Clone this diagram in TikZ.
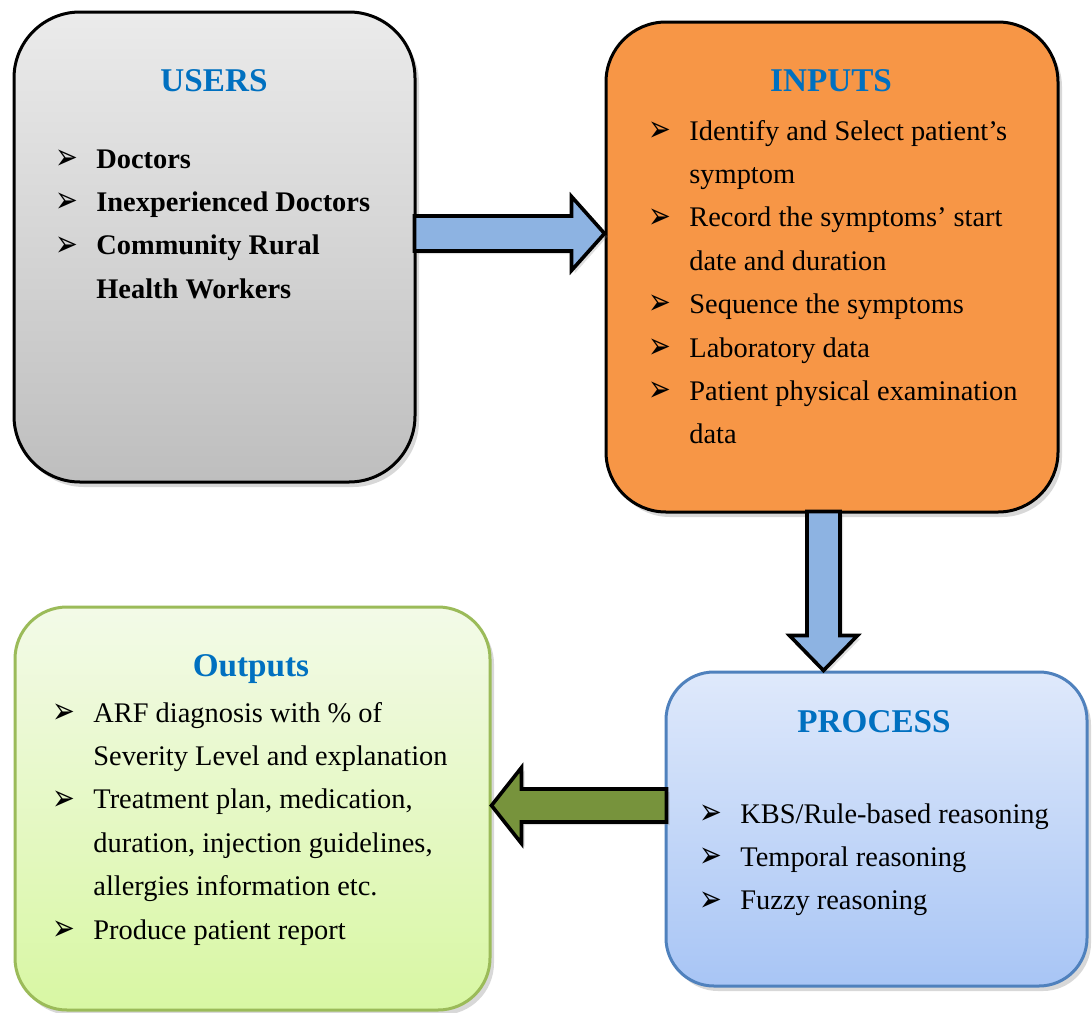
\documentclass[tikz,border=0pt]{standalone}
\usepackage{fontspec}
\setmainfont{Liberation Serif}
\newfontfamily\arrowfont{DejaVu Sans}
\usepackage{tikz}
\usetikzlibrary{calc,fit,shadows}
\definecolor{DxTitle}{HTML}{0070C0}
\definecolor{DxGreyTop}{HTML}{EBEBEB}
\definecolor{DxGreyBot}{HTML}{BEBEBE}
\definecolor{DxOrange}{HTML}{F79646}
\definecolor{DxBlueTop}{HTML}{DFE9FB}
\definecolor{DxBlueBot}{HTML}{A8C5F5}
\definecolor{DxBlueLine}{HTML}{4F81BD}
\definecolor{DxLimeTop}{HTML}{F3FAE8}
\definecolor{DxLimeBot}{HTML}{D8F7A3}
\definecolor{DxLimeLine}{HTML}{9BBB59}
\definecolor{DxArrowBlue}{HTML}{8DB3E2}
\definecolor{DxArrowGreen}{HTML}{77933C}
\newcommand{\bul}{\makebox[20.5pt][l]{\raisebox{-0.6pt}{\scalebox{0.85}[1.15]{\arrowfont\fontsize{16}{16}\selectfont ➢}}}}

\begin{document}
\begin{tikzpicture}[x=0.5pt,y=-0.5pt,
  box/.style={rounded corners=#1,line width=1.5pt,inner sep=0pt,
    drop shadow={shadow xshift=2pt,shadow yshift=-2.5pt,opacity=.3}},
  title/.style={anchor=base,inner sep=0pt,text=DxTitle,
    font=\fontsize{16.6}{20}\selectfont\bfseries},
  list/.style={anchor=base west,inner sep=0pt,
    font=\fontsize{14.2}{21.7}\selectfont},
  blockarrow/.style={line width=1.8pt,line join=miter,
    drop shadow={shadow xshift=1.5pt,shadow yshift=-1.5pt,opacity=.25}}]
\useasboundingbox (0,0) rectangle (1092,1012);
\fill[white] (0,0) rectangle (1092,1012);

% boxes
\node[box=33pt,draw=black,top color=DxGreyTop,bottom color=DxGreyBot,
  fit={(14,12) (415,482)}] (users) {};
\node[box=30pt,draw=black,fill=DxOrange,
  fit={(606,22) (1058,512)}] (inputs) {};
\node[box=24pt,draw=DxBlueLine,top color=DxBlueTop,bottom color=DxBlueBot,
  fit={(666,672) (1087,986)}] (process) {};
\node[box=26pt,draw=DxLimeLine,top color=DxLimeTop,bottom color=DxLimeBot,
  fit={(15,607) (490,1010)}] (outputs) {};

% titles
\node[title] (usersTitle) at (214,91) {USERS};
\node[title] (inputsTitle) at (831,91) {INPUTS};
\node[title] (processTitle) at (874,732) {PROCESS};
\node[title] (outputsTitle) at (251,676) {Outputs};

% lists
\node[list,font=\fontsize{14.2}{21.7}\selectfont\bfseries] (usersList) at (55,168)
  {\begin{tabular}[t]{@{}l@{}l@{}}
   \bul & Doctors\\
   \bul & Inexperienced Doctors\\
   \bul & Community Rural\\
        & Health Workers
   \end{tabular}};
\node[list] (inputsList) at (648,140)
  {\begin{tabular}[t]{@{}l@{}l@{}}
   \bul & Identify and Select patient’s\\
        & symptom\\
   \bul & Record the symptoms’ start\\
        & date and duration\\
   \bul & Sequence the symptoms\\
   \bul & Laboratory data\\
   \bul & Patient physical examination\\
        & data
   \end{tabular}};
\node[list] (processList) at (699,823)
  {\begin{tabular}[t]{@{}l@{}l@{}}
   \bul & KBS/Rule-based reasoning\\
   \bul & Temporal reasoning\\
   \bul & Fuzzy reasoning
   \end{tabular}};
\node[list] (outputsList) at (52,722)
  {\begin{tabular}[t]{@{}l@{}l@{}}
   \bul & ARF diagnosis with \% of\\
        & Severity Level and explanation\\
   \bul & Treatment plan, medication,\\
        & duration, injection guidelines,\\
        & allergies information etc.\\
   \bul & Produce patient report
   \end{tabular}};

% block arrows
\coordinate (uTail) at (users.east |- 0,233.5);
\coordinate (iTip) at (inputs.west |- 0,233.5);
\draw[blockarrow,fill=DxArrowBlue] ($(uTail)+(-2,-17.5)$) -- ($(iTip)+(-33,-17.5)$)
  -- ($(iTip)+(-33,-37)$) -- (iTip) -- ($(iTip)+(-33,37)$)
  -- ($(iTip)+(-33,17.5)$) -- ($(uTail)+(-2,17.5)$) -- cycle;

\coordinate (iTail) at (823.5,0 |- inputs.south);
\coordinate (pTip) at (823.5,0 |- process.north);
\draw[blockarrow,fill=DxArrowBlue] ($(iTail)+(-16.5,-2)$) -- ($(pTip)+(-16.5,-35)$)
  -- ($(pTip)+(-34,-35)$) -- (pTip) -- ($(pTip)+(34,-35)$)
  -- ($(pTip)+(16.5,-35)$) -- ($(iTail)+(16.5,-2)$) -- cycle;

\coordinate (pTail) at (process.west |- 0,805.5);
\coordinate (oTip) at (outputs.east |- 0,805.5);
\draw[blockarrow,fill=DxArrowGreen] ($(pTail)+(2,-16.5)$) -- ($(oTip)+(30,-16.5)$)
  -- ($(oTip)+(30,-38)$) -- (oTip) -- ($(oTip)+(30,38)$)
  -- ($(oTip)+(30,16.5)$) -- ($(pTail)+(2,16.5)$) -- cycle;
\end{tikzpicture}
\end{document}
